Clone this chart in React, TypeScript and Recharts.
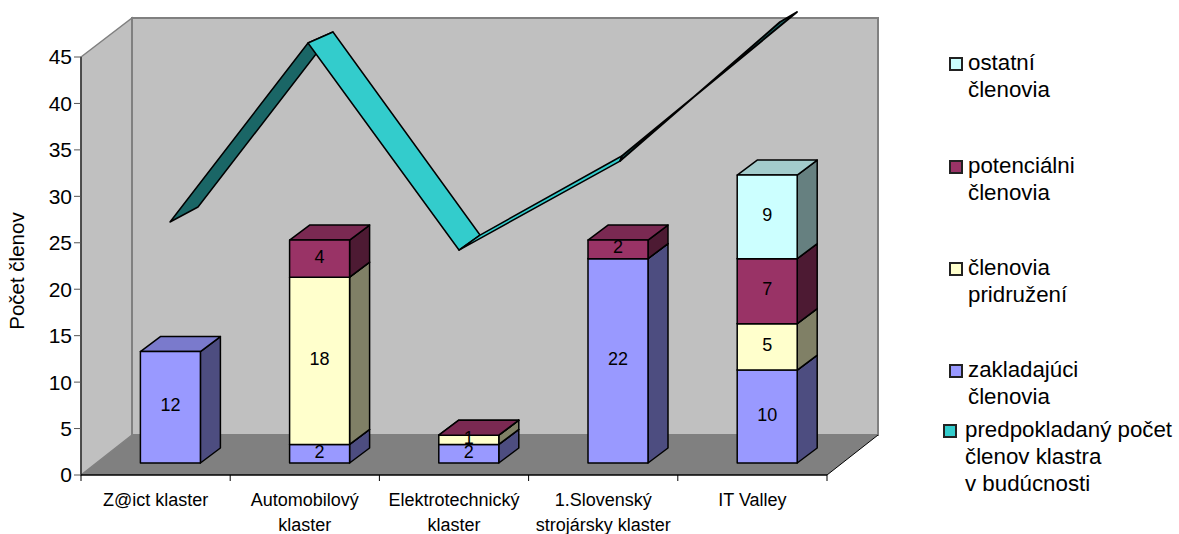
import React from 'react';
import { ComposedChart, Bar, Line, XAxis, YAxis, CartesianGrid, Legend, LabelList, Label } from 'recharts';

const CATEGORIES = ['Z@ict klaster', 'Automobilový\nklaster', 'Elektrotechnický\nklaster', '1.Slovenský\nstrojársky klaster', 'IT Valley'];
const ZAKLADAJUCI = [12, 2, 2, 22, 10];
const PRIDRUZENI = [null, 18, 1, null, 5];
const POTENCIALNI = [null, 4, 0, 2, 7];
const OSTATNI = [null, null, null, null, 9];
const PREDPOKLADANY = [26, 45, 23, 32, 46];
const Y_TICKS = [0, 5, 10, 15, 20, 25, 30, 35, 40, 45];

const data = CATEGORIES.map((name, i) => ({
  name,
  zakladajuci: ZAKLADAJUCI[i],
  pridruzeni: PRIDRUZENI[i],
  potencialni: POTENCIALNI[i],
  ostatni: OSTATNI[i],
  predpokladany: PREDPOKLADANY[i],
}));

const FONT = '"Liberation Sans", Arial, sans-serif';
const WIDTH = 1179;
const HEIGHT = 534;
const LEFT = 81;
const RIGHT = 827;
const TOP_45 = 57;
const BOTTOM = 475;
const BAND = (RIGHT - LEFT) / CATEGORIES.length;
const UNIT_PX = (BOTTOM - TOP_45) / 45;
// wall depth of the fake 3D box
const WALL_DX = 51;
const WALL_DY = -39;
// bars stand a bit inside the floor
const BAR_DX = 14.4;
const BAR_DY = -12;
const BOX_DX = 20;
const BOX_DY = -15;

// ribbon corners relative to each line point, front and back edge
const RIBBON_FRONT = [[14.4, -11.5], [3.2, -14], [5, -11.3], [16.8, -16.7], [27.6, -25.7]];
const RIBBON_BACK = [[42.4, -26.5], [28.2, -25], [26, -26.3], [19, -22], [44.6, -35.7]];
const RIBBON_FILL = ['#1A6666', '#33CCCC', '#33CCCC', '#1A6666'];

const Box = (props: any) => {
  const { x, y, width, height, fill, side, top, payload, series } = props;
  // missing stack parts stay undrawn, a real 0 still shows its lid
  if (x == null || height == null || payload[series] == null) return null;
  const l = x + BAR_DX;
  const r = l + width;
  const t = y + BAR_DY;
  const b = t + height;
  return (
    <g stroke="#000" strokeWidth={1.5} strokeLinejoin="round">
      <polygon points={`${r},${t} ${r + BOX_DX},${t + BOX_DY} ${r + BOX_DX},${b + BOX_DY} ${r},${b}`} fill={side} />
      <polygon points={`${l},${t} ${l + BOX_DX},${t + BOX_DY} ${r + BOX_DX},${t + BOX_DY} ${r},${t}`} fill={top} />
      <rect x={l} y={t} width={width} height={height} fill={fill} />
    </g>
  );
};

const boxText = (x: number, y: number, width: number, height: number, value: any) => (
  <text x={x + BAR_DX + width / 2} y={y + BAR_DY + height / 2 + 4} textAnchor="middle" fontSize={18} fontFamily={FONT} fill="#000">
    {value}
  </text>
);

const BoxLabel = (props: any) => {
  const { x, y, width, height, value } = props;
  if (!value) return null;
  return boxText(x, y, width, height, value);
};

// the lid of a zero part would hide the label below it, so that label is drawn with the lid's series
const PridruzeniLabel = (props: any) => {
  if (POTENCIALNI[props.index] === 0) return null;
  return <BoxLabel {...props} />;
};

const PotencialniLabel = (props: any) => {
  const { x, y, width, height, value, index } = props;
  if (POTENCIALNI[index] === 0) {
    const below = PRIDRUZENI[index] as number;
    return boxText(x, y, width, below * UNIT_PX, below);
  }
  if (!value) return null;
  return boxText(x, y, width, height, value);
};

const RibbonDot = (props: any) => {
  const { cx, cy, index, points } = props;
  const next = points && points[index + 1];
  if (!next) return <g key={index} />;
  const f0 = RIBBON_FRONT[index];
  const b0 = RIBBON_BACK[index];
  const f1 = RIBBON_FRONT[index + 1];
  const b1 = RIBBON_BACK[index + 1];
  const pts = [
    [cx + f0[0], cy + f0[1]],
    [next.x + f1[0], next.y + f1[1]],
    [next.x + b1[0], next.y + b1[1]],
    [cx + b0[0], cy + b0[1]],
  ];
  return (
    <polygon
      key={index}
      points={pts.map((p) => p.join(',')).join(' ')}
      fill={RIBBON_FILL[index]}
      stroke="#000"
      strokeWidth={index === 3 ? 1.9 : 1.5}
      strokeLinejoin="round"
    />
  );
};

const Walls = () => {
  const bx = LEFT + WALL_DX;
  const rx = RIGHT + WALL_DX;
  const ty = TOP_45 + WALL_DY;
  const by = BOTTOM + WALL_DY - 1;
  return (
    <g>
      <polygon points={`${LEFT},${TOP_45} ${bx},${ty} ${bx},${by} ${LEFT},${BOTTOM}`} fill="#C0C0C0" stroke="#808080" strokeWidth={1.5} />
      <polygon points={`${bx},${ty} ${rx},${ty} ${rx},${by} ${bx},${by}`} fill="#C0C0C0" stroke="#808080" strokeWidth={2} />
      <polygon points={`${LEFT},${BOTTOM} ${bx},${by} ${rx},${by} ${RIGHT},${BOTTOM}`} fill="#808080" />
      <line x1={rx} y1={by} x2={RIGHT} y2={BOTTOM} stroke="#000" strokeWidth={1} />
      <line x1={LEFT} y1={TOP_45} x2={LEFT} y2={BOTTOM} stroke="#333" strokeWidth={1.5} />
    </g>
  );
};

// gridline runs up the side wall and then along the back wall
const GridLine = (props: any) => {
  const { x1, y1, index } = props;
  if (y1 > BOTTOM - 1 || y1 < TOP_45 + 1) return <g key={index} />;
  return (
    <polyline
      key={index}
      points={`${x1},${y1} ${x1 + WALL_DX},${y1 + WALL_DY} ${RIGHT + WALL_DX},${y1 + WALL_DY}`}
      fill="none"
      stroke="#000"
      strokeWidth={1}
    />
  );
};

const CategoryTick = (props: any) => {
  const { x, payload, index } = props;
  const lines = String(payload.value).split('\n');
  return (
    <g>
      <line x1={x - BAND / 2} y1={BOTTOM} x2={x - BAND / 2} y2={BOTTOM + 6} stroke="#000" />
      {index === CATEGORIES.length - 1 && <line x1={x + BAND / 2} y1={BOTTOM} x2={x + BAND / 2} y2={BOTTOM + 6} stroke="#000" />}
      <text textAnchor="middle" fontSize={18} fontFamily={FONT} fill="#000">
        {lines.map((l, i) => (
          <tspan key={i} x={x} y={BOTTOM + 31 + i * 25}>{l}</tspan>
        ))}
      </text>
    </g>
  );
};

const LEGEND_ITEMS: Record<string, { top: number; left: number; swatch: number }> = {
  ostatni: { top: 49, left: 968, swatch: 949 },
  potencialni: { top: 152, left: 968, swatch: 949 },
  pridruzeni: { top: 254, left: 968, swatch: 949 },
  zakladajuci: { top: 356, left: 968, swatch: 949 },
  predpokladany: { top: 416, left: 965, swatch: 943 },
};

const LegendContent = (props: any) => (
  <div style={{ position: 'relative', width: 0, height: 0, fontFamily: FONT, fontSize: 22.3, lineHeight: '27px', color: '#000' }}>
    {(props.payload || []).map((p: any) => {
      const pos = LEGEND_ITEMS[p.dataKey];
      if (!pos) return null;
      return (
        <div key={p.dataKey}>
          <div
            style={{
              position: 'absolute',
              left: pos.swatch,
              top: pos.top + 8,
              width: 10,
              height: 10,
              border: '2px solid #222',
              background: p.dataKey === 'predpokladany' ? '#33CCCC' : p.payload.fill,
            }}
          />
          <div style={{ position: 'absolute', left: pos.left, top: pos.top, whiteSpace: 'pre' }}>{p.value}</div>
        </div>
      );
    })}
  </div>
);

const App: React.FC = () => {
  return (
    <div style={{ position: 'absolute', left: 0, top: 0, width: WIDTH, height: HEIGHT, background: '#fff' }}>
      <ComposedChart
        width={WIDTH}
        height={HEIGHT}
        data={data}
        barSize={60}
        margin={{ top: BOTTOM - (BOTTOM - TOP_45) * (50 / 45), right: WIDTH - RIGHT, bottom: 0, left: 0 }}
      >
        <Walls />
        <CartesianGrid vertical={false} horizontal={GridLine as any} />
        <XAxis
          dataKey="name"
          height={HEIGHT - BOTTOM}
          interval={0}
          tick={CategoryTick as any}
          tickLine={false}
          axisLine={{ stroke: '#000', strokeWidth: 1.5 }}
        />
        <YAxis
          width={LEFT}
          domain={[0, 50]}
          ticks={Y_TICKS}
          tick={{ fontSize: 21, fontFamily: FONT, fill: '#000' }}
          tickLine={{ stroke: '#555' }}
          tickSize={7}
          axisLine={false}
        >
          <Label value="Počet členov" angle={-90} position={{ x: 24, y: 260.5 } as any} style={{ fontSize: 20.5, fontFamily: FONT, fill: '#000', textAnchor: 'middle' }} />
        </YAxis>
        <Bar
          dataKey="zakladajuci"
          name={'zakladajúci\nčlenovia'}
          stackId="a"
          fill="#9999FF"
          shape={<Box series="zakladajuci" side="#4D4D80" top="#7A7ACC" />}
          isAnimationActive={false}
        >
          <LabelList dataKey="zakladajuci" content={BoxLabel as any} />
        </Bar>
        <Bar
          dataKey="pridruzeni"
          name={'členovia\npridružení'}
          stackId="a"
          fill="#FFFFCC"
          shape={<Box series="pridruzeni" side="#808066" top="#CCCCA3" />}
          isAnimationActive={false}
        >
          <LabelList dataKey="pridruzeni" content={PridruzeniLabel as any} />
        </Bar>
        <Bar
          dataKey="potencialni"
          name={'potenciálni\nčlenovia'}
          stackId="a"
          fill="#993366"
          shape={<Box series="potencialni" side="#4D1A33" top="#7A2952" />}
          isAnimationActive={false}
        >
          <LabelList dataKey="potencialni" content={PotencialniLabel as any} />
        </Bar>
        <Bar
          dataKey="ostatni"
          name={'ostatní\nčlenovia'}
          stackId="a"
          fill="#CCFFFF"
          shape={<Box series="ostatni" side="#668080" top="#A3CCCC" />}
          isAnimationActive={false}
        >
          <LabelList dataKey="ostatni" content={BoxLabel as any} />
        </Bar>
        <Line
          dataKey="predpokladany"
          name={'predpokladaný počet\nčlenov klastra\nv budúcnosti'}
          stroke="none"
          dot={RibbonDot as any}
          activeDot={false}
          isAnimationActive={false}
        />
        <Legend content={LegendContent as any} wrapperStyle={{ left: 0, top: 0, width: 0, height: 0 }} />
      </ComposedChart>
    </div>
  );
};

export default App;
